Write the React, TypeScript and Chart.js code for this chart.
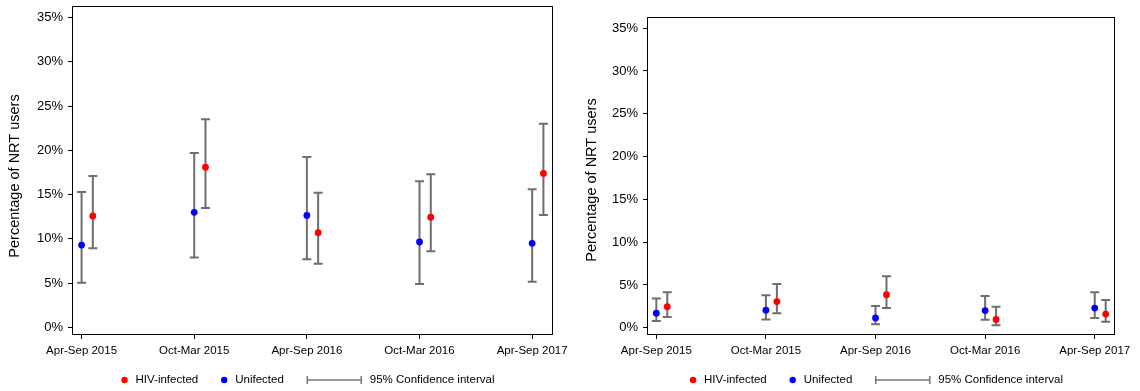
import React, { useEffect, useRef } from "react";
import { Chart, registerables } from "chart.js";

Chart.register(...registerables);

// ---------- data ----------
const categories = ["Apr-Sep 2015", "Oct-Mar 2015", "Apr-Sep 2016", "Oct-Mar 2016", "Apr-Sep 2017"];
const yTickValues = [0, 5, 10, 15, 20, 25, 30, 35];
const yAxisTitle = "Percentage of NRT users";
const legendLabels = ["HIV-infected", "Unifected", "95% Confidence interval"];

// left panel
const hivA = [12.6, 18.1, 10.7, 12.45, 17.4];
const hivALow = [8.95, 13.5, 7.2, 8.6, 12.7];
const hivAHigh = [17.1, 23.5, 15.2, 17.3, 23.0];
const unA = [9.3, 13.0, 12.65, 9.65, 9.5];
const unALow = [5.05, 7.9, 7.7, 4.9, 5.15];
const unAHigh = [15.3, 19.7, 19.25, 16.5, 15.6];

// right panel
const hivB = [2.45, 3.05, 3.85, 0.97, 1.6];
const hivBLow = [1.25, 1.7, 2.3, 0.3, 0.7];
const hivBHigh = [4.15, 5.1, 6.0, 2.45, 3.25];
const unB = [1.7, 2.05, 1.15, 2.0, 2.3];
const unBLow = [0.8, 0.95, 0.4, 0.93, 1.15];
const unBHigh = [3.4, 3.8, 2.55, 3.7, 4.15];

// ---------- styles ----------
const FONT = "'Liberation Sans', Arial, Helvetica, sans-serif";
const RED = "#ff0000";
const BLUE = "#0000ff";
const BAR = "#6e6e6e";
const Y_MIN = -0.85;
const Y_MAX = 36.3;
const X_MIN = -0.085;
const X_MAX = 4.185;
const HIV_OFFSET = 0.1;

type Panel = {
  hiv: number[]; hivLow: number[]; hivHigh: number[];
  un: number[]; unLow: number[]; unHigh: number[];
  padding: { top: number; right: number; bottom: number; left: number };
  yAxisWidth: number;
  titleX: number;
  titleY: number;
};

const panels: Panel[] = [
  {
    hiv: hivA, hivLow: hivALow, hivHigh: hivAHigh,
    un: unA, unLow: unALow, unHigh: unAHigh,
    padding: { top: 6, right: 17, bottom: 26, left: 0 },
    yAxisWidth: 72,
    titleX: 15,
    titleY: 176,
  },
  {
    hiv: hivB, hivLow: hivBLow, hivHigh: hivBHigh,
    un: unB, unLow: unBLow, unHigh: unBHigh,
    padding: { top: 17, right: 25, bottom: 26, left: 0 },
    yAxisWidth: 77,
    titleX: 22,
    titleY: 180,
  },
];

function buildChart(canvas: HTMLCanvasElement, panel: Panel) {
  const toPoints = (vals: number[], lows: number[], highs: number[], offset: number) =>
    vals.map((v, i) => ({ x: i + offset, y: v, low: lows[i], high: highs[i] }));

  const errorBars = {
    id: "errorBars",
    beforeDatasetsDraw(chart: any) {
      const { ctx } = chart;
      const xs = chart.scales.x;
      const ys = chart.scales.y;
      ctx.save();
      ctx.strokeStyle = BAR;
      ctx.lineWidth = 2;
      ctx.lineCap = "butt";
      chart.data.datasets.forEach((ds: any) => {
        ds.data.forEach((p: any) => {
          const x = xs.getPixelForValue(p.x);
          const yl = ys.getPixelForValue(p.low);
          const yh = ys.getPixelForValue(p.high);
          ctx.beginPath();
          ctx.moveTo(x, yl);
          ctx.lineTo(x, yh);
          ctx.moveTo(x - 4.5, yl);
          ctx.lineTo(x + 4.5, yl);
          ctx.moveTo(x - 4.5, yh);
          ctx.lineTo(x + 4.5, yh);
          ctx.stroke();
        });
      });
      ctx.restore();
    },
  };

  const frame = {
    id: "frame",
    afterDatasetsDraw(chart: any) {
      const { ctx, chartArea } = chart;
      ctx.save();
      ctx.strokeStyle = "#000";
      ctx.lineWidth = 1;
      const l = Math.round(chartArea.left) + 0.5;
      const t = Math.round(chartArea.top) + 0.5;
      const r = Math.round(chartArea.right) - 0.5;
      const b = Math.round(chartArea.bottom) - 0.5;
      ctx.strokeRect(l, t, r - l, b - t);
      ctx.restore();
    },
  };

  const titleAndLegend = {
    id: "titleAndLegend",
    afterDraw(chart: any) {
      const { ctx, chartArea } = chart;
      ctx.save();
      // y axis title
      ctx.fillStyle = "#000";
      ctx.font = `14.5px ${FONT}`;
      ctx.textAlign = "center";
      ctx.textBaseline = "middle";
      ctx.translate(panel.titleX, panel.titleY);
      ctx.rotate(-Math.PI / 2);
      ctx.fillText(yAxisTitle, 0, 0);
      ctx.setTransform(1, 0, 0, 1, 0, 0);

      // legend
      ctx.font = `11.5px ${FONT}`;
      ctx.textAlign = "left";
      const w0 = ctx.measureText(legendLabels[0]).width;
      const w1 = ctx.measureText(legendLabels[1]).width;
      const w2 = ctx.measureText(legendLabels[2]).width;
      const dotGap = 11;
      const itemGap = 26;
      const lineGap = 23.5;
      const lineLen = 54;
      const lineTextGap = 8.5;
      const total = dotGap + w0 + itemGap + dotGap + w1 + lineGap + lineLen + lineTextGap + w2;
      const cx = (chartArea.left + chartArea.right) / 2 - 3;
      const y = 380;
      let x = cx - total / 2;
      // red dot
      ctx.fillStyle = RED;
      ctx.beginPath();
      ctx.arc(x, y, 3.2, 0, Math.PI * 2);
      ctx.fill();
      ctx.fillStyle = "#000";
      ctx.fillText(legendLabels[0], x + dotGap, y);
      x += dotGap + w0 + itemGap;
      ctx.fillStyle = BLUE;
      ctx.beginPath();
      ctx.arc(x, y, 3.2, 0, Math.PI * 2);
      ctx.fill();
      ctx.fillStyle = "#000";
      ctx.fillText(legendLabels[1], x + dotGap, y);
      x += dotGap + w1 + lineGap;
      ctx.strokeStyle = "#777";
      ctx.lineWidth = 1.5;
      ctx.beginPath();
      ctx.moveTo(x, y);
      ctx.lineTo(x + lineLen, y);
      ctx.moveTo(x, y - 4);
      ctx.lineTo(x, y + 4);
      ctx.moveTo(x + lineLen, y - 4);
      ctx.lineTo(x + lineLen, y + 4);
      ctx.stroke();
      ctx.fillStyle = "#000";
      ctx.fillText(legendLabels[2], x + lineLen + lineTextGap, y);
      ctx.restore();
    },
  };

  return new Chart(canvas, {
    type: "scatter",
    data: {
      datasets: [
        {
          label: legendLabels[1],
          data: toPoints(panel.un, panel.unLow, panel.unHigh, 0),
          backgroundColor: BLUE,
          borderWidth: 0,
          pointRadius: 3.4,
        },
        {
          label: legendLabels[0],
          data: toPoints(panel.hiv, panel.hivLow, panel.hivHigh, HIV_OFFSET),
          backgroundColor: RED,
          borderWidth: 0,
          pointRadius: 3.4,
        },
      ],
    },
    options: {
      animation: false,
      responsive: false,
      events: [],
      layout: { padding: panel.padding },
      plugins: {
        legend: { display: false },
        tooltip: { enabled: false },
        title: { display: false },
      },
      scales: {
        x: {
          type: "linear",
          min: X_MIN,
          max: X_MAX,
          bounds: "data",
          border: { display: false },
          grid: {
            display: true,
            drawOnChartArea: false,
            drawTicks: true,
            tickLength: 4,
            color: "#000",
            lineWidth: 1,
          },
          ticks: {
            color: "#000",
            font: { family: FONT, size: 11.5 },
            padding: 5,
            maxRotation: 0,
            autoSkip: false,
            callback: (v: any) => categories[v] ?? "",
          },
          afterBuildTicks: (scale: any) => {
            scale.ticks = categories.map((_, i) => ({ value: i }));
          },
          afterFit: (scale: any) => {
            scale.height = 30;
            scale.paddingLeft = 0;
            scale.paddingRight = 0;
          },
        },
        y: {
          type: "linear",
          min: Y_MIN,
          max: Y_MAX,
          bounds: "data",
          border: { display: false },
          grid: {
            display: true,
            drawOnChartArea: false,
            drawTicks: true,
            tickLength: 4,
            color: "#000",
            lineWidth: 1,
          },
          ticks: {
            color: "#000",
            font: { family: FONT, size: 13 },
            padding: 5,
            callback: (v: any) => `${v}%`,
          },
          afterBuildTicks: (scale: any) => {
            scale.ticks = yTickValues.map((v) => ({ value: v }));
          },
          afterFit: (scale: any) => {
            scale.width = panel.yAxisWidth;
            scale.paddingTop = 0;
            scale.paddingBottom = 0;
          },
        },
      },
    },
    plugins: [errorBars, frame, titleAndLegend],
  } as any);
}

function Panel({ panel }: { panel: Panel }) {
  const ref = useRef<HTMLCanvasElement | null>(null);
  useEffect(() => {
    if (!ref.current) return;
    const chart = buildChart(ref.current, panel);
    return () => chart.destroy();
  }, [panel]);
  return (
    <canvas
      ref={ref}
      width={570}
      height={391}
      style={{ width: 570, height: 391, display: "block" }}
    />
  );
}

export default function App() {
  return (
    <div
      style={{
        position: "absolute",
        left: 0,
        top: 0,
        width: 1140,
        height: 391,
        background: "#fff",
        display: "flex",
        flexDirection: "row",
      }}
    >
      {panels.map((p, i) => (
        <Panel key={i} panel={p} />
      ))}
    </div>
  );
}
